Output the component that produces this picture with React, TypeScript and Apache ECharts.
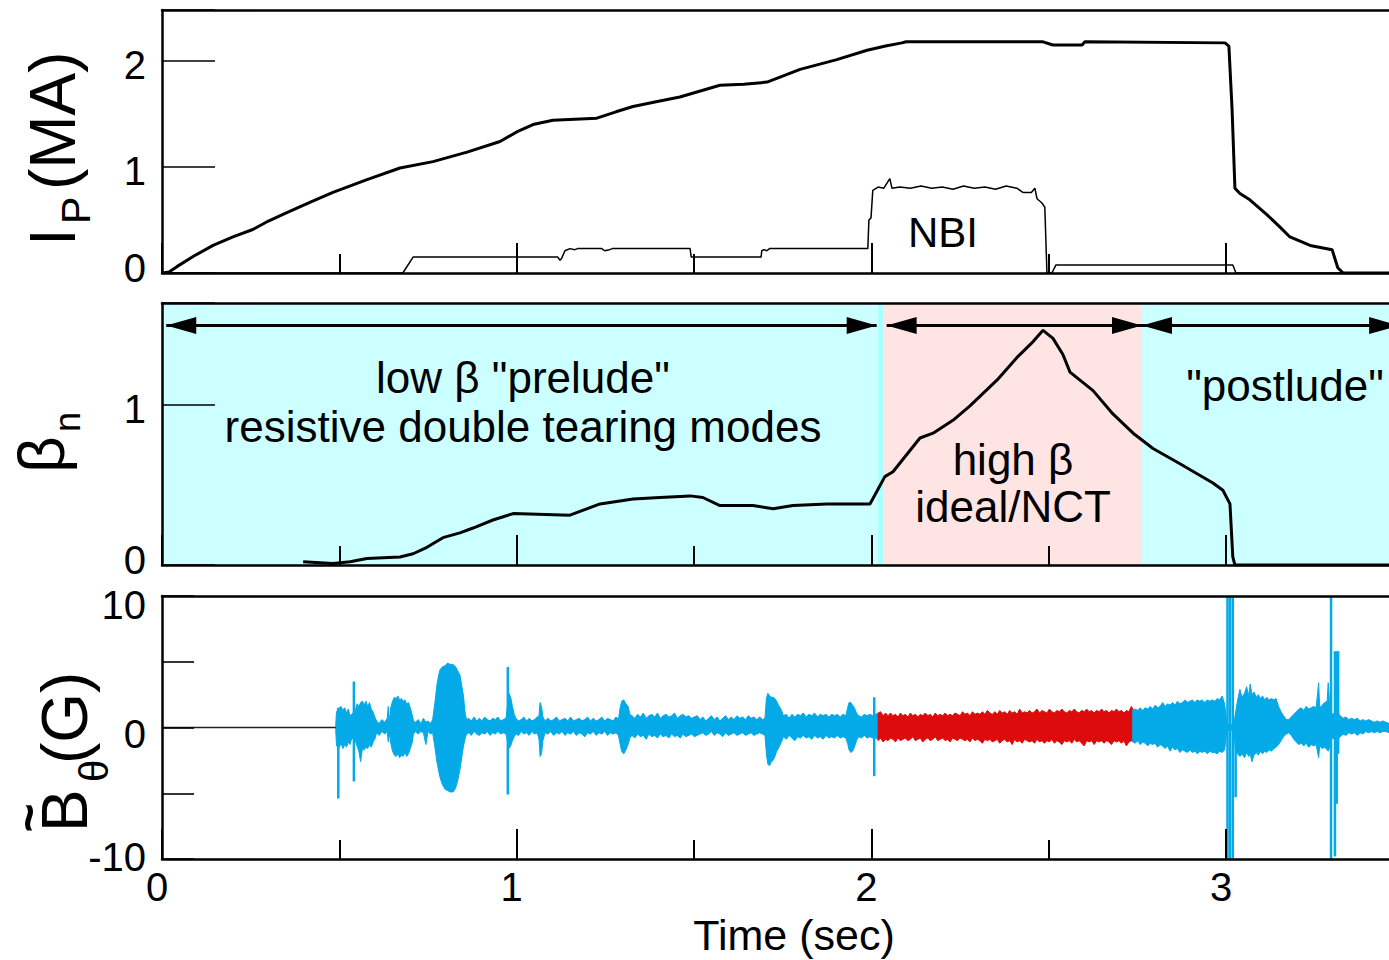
import React, { useEffect, useRef } from "react";
import * as echarts from "echarts";

const FONT = "'Liberation Sans', Arial, Helvetica, sans-serif";
const BLUE = "#04aae8";
const RED = "#dd0b0b";

// ---- panel 1: plasma current and NBI ----
const ipTime = [0, 0.02, 0.042, 0.09, 0.144, 0.2, 0.256, 0.3, 0.352, 0.42, 0.482, 0.578, 0.671, 0.764, 0.86, 0.953, 1.0, 1.046, 1.102, 1.226, 1.28, 1.328, 1.4, 1.46, 1.573, 1.64, 1.706, 1.799, 1.9, 1.988, 2.04, 2.086, 2.098, 2.484, 2.512, 2.594, 2.602, 2.997, 3.008, 3.017, 3.025, 3.039, 3.067, 3.115, 3.15, 3.18, 3.237, 3.299, 3.315, 3.33, 3.5];
const ipValue = [0, 0.01, 0.06, 0.16, 0.26, 0.34, 0.41, 0.49, 0.57, 0.67, 0.76, 0.88, 0.99, 1.05, 1.14, 1.24, 1.33, 1.4, 1.44, 1.46, 1.52, 1.57, 1.62, 1.66, 1.77, 1.78, 1.8, 1.92, 2.01, 2.1, 2.14, 2.17, 2.18, 2.18, 2.15, 2.15, 2.18, 2.17, 2.14, 1.54, 0.8, 0.75, 0.69, 0.55, 0.44, 0.34, 0.26, 0.22, 0.05, 0, 0];

const nbiTime = [0, 0.679, 0.708, 1.116, 1.122, 1.127, 1.136, 1.15, 1.164, 1.172, 1.24, 1.248, 1.262, 1.27, 1.489, 1.492, 1.689, 1.691, 1.697, 1.705, 1.713, 1.99, 1.993, 1.999, 2.004, 2.019, 2.035, 2.052, 2.058, 2.08, 2.11, 2.14, 2.17, 2.2, 2.23, 2.26, 2.29, 2.32, 2.35, 2.38, 2.41, 2.427, 2.451, 2.461, 2.467, 2.481, 2.489, 2.495, 2.509, 2.52, 3.019, 3.028, 3.5];
const nbiValue = [0, 0, 0.15, 0.15, 0.12, 0.14, 0.21, 0.23, 0.22, 0.23, 0.23, 0.21, 0.22, 0.23, 0.23, 0.15, 0.15, 0.21, 0.22, 0.21, 0.23, 0.23, 0.5, 0.52, 0.78, 0.81, 0.8, 0.89, 0.8, 0.81, 0.8, 0.82, 0.8, 0.81, 0.79, 0.82, 0.8, 0.81, 0.79, 0.82, 0.8, 0.76, 0.76, 0.8, 0.7, 0.66, 0.62, 0, 0, 0.075, 0.075, 0, 0];

// ---- panel 2: normalized beta ----
const betaTime = [0.398, 0.482, 0.53, 0.578, 0.671, 0.708, 0.747, 0.792, 0.84, 0.877, 0.933, 0.99, 1.15, 1.235, 1.328, 1.404, 1.489, 1.525, 1.573, 1.666, 1.723, 1.779, 1.875, 1.996, 2.016, 2.038, 2.061, 2.137, 2.174, 2.23, 2.278, 2.354, 2.41, 2.456, 2.484, 2.512, 2.54, 2.56, 2.625, 2.681, 2.738, 2.794, 2.87, 2.963, 2.991, 3.011, 3.019, 3.025, 3.5];
const betaValue = [0.02, 0.01, 0.02, 0.04, 0.05, 0.07, 0.11, 0.17, 0.2, 0.23, 0.28, 0.32, 0.31, 0.38, 0.41, 0.42, 0.43, 0.42, 0.37, 0.37, 0.35, 0.37, 0.38, 0.38, 0.46, 0.55, 0.58, 0.79, 0.82, 0.9, 0.99, 1.15, 1.29, 1.39, 1.46, 1.41, 1.31, 1.2, 1.085, 0.94, 0.82, 0.725, 0.63, 0.51, 0.465, 0.38, 0.05, 0, 0];

const phaseEdges = [0, 2.019, 2.033, 2.763, 3.5];
const phaseColors = ["#ccffff", "#aaffff", "#ffe4e4", "#ccffff"];
const arrowFrom = [0.012, 2.043, 2.763];
const arrowTo = [2.015, 2.763, 3.488];
const arrowLevel = 1.49;

// ---- panel 3: magnetic fluctuation envelope [time, low, high] ----
const quietTime = [0, 0.49];
const quietValue = [0, 0];

const bandBlue1: number[][] = [
  [0.49, -0.3, 0.3], [0.492, -1.4, 1.2], [0.5, -1.5, 1.5], [0.505, -1.2, 1.6], [0.51, -1.6, 1.3], [0.515, -1.3, 1.5], [0.52, -1.5, 1.1], [0.525, -1.1, 1.4], [0.53, -1.3, 0.9], [0.535, -0.8, 1.0],
  [0.545, -1.0, 1.3], [0.55, -1.4, 1.8], [0.555, -1.8, 1.6], [0.56, -2.6, 1.9], [0.565, -1.6, 2.0], [0.57, -1.7, 1.7], [0.575, -1.5, 2.0], [0.58, -1.6, 1.6], [0.585, -1.3, 1.9], [0.59, -1.5, 1.4],
  [0.595, -1.1, 1.2], [0.6, -0.9, 0.8], [0.605, -0.4, 0.5], [0.612, -0.6, 0.3], [0.62, -0.3, 0.6], [0.628, -0.5, 0.4], [0.635, -0.3, 0.7], [0.638, -1.1, 1.6], [0.641, -0.4, 0.5], [0.645, -1.2, 1.5],
  [0.65, -1.8, 2.0], [0.655, -2.1, 2.3], [0.66, -2.2, 2.2], [0.665, -2.0, 2.4], [0.67, -2.3, 2.1], [0.675, -2.1, 2.2], [0.68, -2.2, 2.0], [0.685, -1.9, 2.1], [0.69, -2.2, 1.8], [0.695, -2.0, 1.9],
  [0.7, -1.6, 1.5], [0.705, -1.2, 1.0], [0.709, -0.5, 0.5], [0.715, -0.3, 0.4], [0.722, -0.5, 0.6], [0.73, -0.3, 0.3], [0.737, -0.4, 0.7], [0.744, -1.3, 0.4], [0.75, -0.3, 0.5], [0.757, -0.5, 0.3],
  [0.763, -0.4, 0.6], [0.77, -1.6, 2.0], [0.775, -2.6, 3.2], [0.78, -3.3, 4.0], [0.784, -3.8, 4.4], [0.79, -4.3, 4.6], [0.798, -4.7, 4.7], [0.805, -4.8, 4.9], [0.812, -4.9, 4.8], [0.821, -4.9, 4.8],
  [0.828, -4.6, 4.6], [0.834, -4.0, 4.3], [0.84, -3.2, 4.0], [0.845, -2.3, 3.2], [0.85, -1.4, 2.4], [0.855, -0.8, 1.0], [0.859, -0.5, 0.6], [0.865, -0.4, 0.7], [0.872, -0.6, 0.5], [0.88, -0.3, 0.8],
  [0.887, -0.5, 0.5], [0.895, -0.6, 0.7], [0.902, -0.4, 0.5], [0.91, -0.5, 0.8], [0.917, -0.3, 0.6], [0.925, -0.6, 0.5], [0.932, -0.4, 0.7], [0.94, -0.5, 0.6], [0.947, -0.3, 0.8], [0.955, -0.5, 0.5],
  [0.962, -0.4, 0.6], [0.97, -0.5, 0.7], [0.978, -1.6, 2.6], [0.983, -1.4, 2.3], [0.988, -1.0, 1.6], [0.993, -0.7, 1.0], [0.998, -0.5, 0.7], [1.005, -0.6, 0.5], [1.013, -0.3, 0.6], [1.02, -0.5, 0.8],
  [1.028, -0.4, 0.5], [1.035, -0.6, 0.7], [1.043, -0.3, 0.5], [1.05, -0.5, 0.6], [1.058, -0.4, 0.8], [1.063, -0.9, 0.9], [1.066, -2.2, 1.9], [1.07, -2.0, 1.6], [1.074, -1.0, 0.8], [1.08, -0.4, 0.5],
  [1.088, -0.5, 0.7], [1.096, -0.3, 0.5], [1.104, -0.6, 0.6], [1.112, -0.4, 0.8], [1.12, -0.5, 0.5], [1.128, -0.3, 0.6], [1.136, -0.6, 0.7], [1.144, -0.4, 0.5], [1.152, -0.5, 0.8], [1.16, -0.3, 0.5],
  [1.168, -0.6, 0.6], [1.176, -0.4, 0.7], [1.184, -0.5, 0.5], [1.192, -0.7, 0.6], [1.2, -0.4, 0.8], [1.208, -0.5, 0.5], [1.216, -0.3, 0.7], [1.224, -0.6, 0.5], [1.232, -0.4, 0.6], [1.24, -0.5, 0.8],
  [1.248, -0.3, 0.5], [1.256, -0.6, 0.7], [1.264, -0.4, 0.6], [1.272, -0.5, 0.5], [1.28, -0.4, 0.8], [1.287, -0.6, 0.6], [1.291, -1.2, 1.4], [1.296, -1.8, 2.0], [1.302, -2.0, 2.1], [1.308, -1.7, 1.8],
  [1.314, -1.3, 1.6], [1.319, -0.8, 1.0], [1.325, -0.6, 0.9], [1.333, -0.8, 0.7], [1.341, -0.5, 1.0], [1.349, -0.7, 0.8], [1.357, -0.6, 1.1], [1.365, -0.9, 0.7], [1.373, -0.5, 0.9], [1.381, -0.7, 1.0],
  [1.389, -0.6, 0.8], [1.397, -0.8, 1.1], [1.405, -0.5, 0.7], [1.413, -0.7, 0.9], [1.421, -0.6, 1.0], [1.429, -0.8, 0.8], [1.437, -0.5, 0.9], [1.445, -0.7, 1.1], [1.453, -0.6, 0.7], [1.461, -0.8, 0.9],
  [1.469, -0.5, 1.0], [1.477, -0.7, 0.8], [1.485, -0.6, 0.9], [1.493, -0.5, 0.7], [1.501, -0.7, 0.8], [1.509, -0.6, 0.9], [1.517, -0.5, 0.6], [1.525, -0.4, 0.8], [1.533, -0.6, 0.5], [1.541, -0.5, 0.7],
  [1.549, -0.3, 0.9], [1.557, -0.6, 0.6], [1.565, -0.4, 0.8], [1.573, -0.5, 0.5], [1.581, -0.7, 0.7], [1.589, -0.4, 0.9], [1.597, -0.6, 0.6], [1.605, -0.5, 0.8], [1.613, -0.4, 0.6], [1.621, -0.6, 0.9],
  [1.629, -0.5, 0.7], [1.637, -0.4, 0.8], [1.645, -0.6, 0.6], [1.653, -0.5, 0.9], [1.661, -0.4, 0.7], [1.669, -0.6, 0.8], [1.677, -0.5, 0.6], [1.685, -0.4, 0.8], [1.693, -0.5, 0.6], [1.7, -0.6, 0.7],
  [1.704, -2.0, 2.2], [1.708, -2.8, 2.6], [1.713, -2.9, 2.4], [1.718, -2.6, 2.3], [1.723, -2.5, 2.3], [1.728, -2.2, 2.2], [1.733, -1.8, 2.0], [1.738, -1.6, 1.7], [1.743, -1.3, 1.5], [1.748, -1.0, 1.2],
  [1.752, -0.7, 0.9], [1.76, -0.9, 1.0], [1.768, -0.6, 0.7], [1.776, -0.8, 1.0], [1.784, -1.0, 0.8], [1.792, -0.7, 1.0], [1.8, -0.8, 0.9], [1.808, -0.6, 1.1], [1.816, -0.8, 0.8], [1.824, -0.7, 1.0],
  [1.832, -0.9, 0.9], [1.84, -0.6, 1.1], [1.848, -0.8, 0.8], [1.856, -0.7, 1.0], [1.864, -0.9, 0.9], [1.872, -0.6, 1.0], [1.88, -0.8, 0.8], [1.888, -0.7, 1.0], [1.896, -0.8, 0.9], [1.904, -0.6, 1.0],
  [1.912, -0.8, 0.8], [1.92, -0.7, 1.0], [1.928, -0.8, 0.9], [1.933, -1.2, 1.5], [1.937, -1.7, 1.9], [1.942, -1.9, 1.9], [1.947, -1.8, 1.7], [1.952, -1.5, 1.5], [1.958, -1.0, 1.1], [1.964, -0.7, 0.9],
  [1.972, -0.8, 0.8], [1.98, -0.6, 1.0], [1.988, -0.8, 0.9], [1.996, -0.7, 1.0], [2.004, -0.8, 0.9], [2.012, -0.8, 1.0], [2.019, -0.9, 1.1],
];

const bandRed: number[][] = [
  [2.019, -1.0, 1.1], [2.026, -0.8, 1.2], [2.033, -1.1, 0.9], [2.04, -0.9, 1.1], [2.047, -1.0, 0.9], [2.054, -0.8, 1.1], [2.061, -0.9, 0.9], [2.068, -1.1, 1.0], [2.075, -0.8, 0.8], [2.082, -1.0, 1.1],
  [2.089, -0.9, 0.9], [2.096, -0.8, 1.0], [2.103, -1.0, 0.8], [2.11, -0.9, 1.1], [2.117, -0.7, 0.9], [2.124, -1.0, 1.0], [2.131, -0.9, 0.8], [2.138, -0.8, 1.0], [2.145, -1.1, 0.9], [2.152, -0.9, 1.1],
  [2.159, -0.8, 0.9], [2.166, -1.0, 1.0], [2.173, -0.9, 0.8], [2.18, -0.7, 1.1], [2.187, -1.0, 0.9], [2.194, -0.9, 1.0], [2.201, -0.8, 0.9], [2.208, -1.0, 1.1], [2.215, -0.9, 0.9], [2.222, -1.1, 1.0],
  [2.229, -0.8, 0.9], [2.236, -0.9, 1.1], [2.243, -1.0, 1.0], [2.25, -0.8, 0.9], [2.257, -0.9, 1.2], [2.264, -1.0, 1.0], [2.271, -0.9, 1.1], [2.278, -1.1, 0.9], [2.285, -0.8, 1.2], [2.292, -1.0, 1.0],
  [2.299, -0.9, 1.1], [2.306, -1.0, 1.0], [2.313, -1.2, 1.2], [2.32, -0.9, 1.0], [2.327, -1.0, 1.3], [2.334, -0.9, 1.1], [2.341, -1.1, 1.0], [2.348, -1.0, 1.2], [2.355, -0.9, 1.0], [2.362, -1.2, 1.3],
  [2.369, -1.0, 1.1], [2.376, -0.9, 1.2], [2.383, -1.1, 1.0], [2.39, -1.0, 1.3], [2.397, -1.3, 1.1], [2.404, -0.9, 1.2], [2.411, -1.1, 1.0], [2.418, -1.0, 1.4], [2.425, -1.2, 1.1], [2.432, -0.9, 1.2],
  [2.439, -1.0, 1.1], [2.446, -1.1, 1.3], [2.453, -1.0, 1.1], [2.46, -1.2, 1.2], [2.467, -0.9, 1.4], [2.474, -1.1, 1.1], [2.481, -1.0, 1.3], [2.488, -1.2, 1.2], [2.495, -1.0, 1.1], [2.502, -1.1, 1.4],
  [2.509, -0.9, 1.2], [2.516, -1.2, 1.1], [2.523, -1.0, 1.3], [2.53, -1.1, 1.2], [2.537, -1.3, 1.4], [2.544, -1.0, 1.2], [2.551, -1.1, 1.1], [2.558, -1.0, 1.3], [2.565, -1.2, 1.2], [2.572, -0.9, 1.4],
  [2.579, -1.1, 1.2], [2.586, -1.0, 1.1], [2.593, -1.2, 1.3], [2.6, -1.4, 1.2], [2.607, -1.0, 1.4], [2.614, -1.1, 1.2], [2.621, -1.0, 1.3], [2.628, -1.3, 1.1], [2.635, -1.0, 1.3], [2.642, -1.1, 1.2],
  [2.649, -1.0, 1.4], [2.656, -1.2, 1.2], [2.663, -1.0, 1.3], [2.67, -1.1, 1.1], [2.677, -1.3, 1.3], [2.684, -1.0, 1.2], [2.691, -1.1, 1.4], [2.698, -1.0, 1.2], [2.705, -1.2, 1.3], [2.712, -1.0, 1.1],
  [2.719, -1.4, 1.3], [2.726, -1.1, 1.2], [2.733, -1.0, 1.6], [2.737, -1.1, 1.4],
];

const bandBlue2: number[][] = [
  [2.737, -1.1, 1.3], [2.744, -1.2, 1.4], [2.751, -1.0, 1.3], [2.758, -1.3, 1.5], [2.765, -1.1, 1.3], [2.772, -1.2, 1.5], [2.779, -1.4, 1.4], [2.786, -1.2, 1.6], [2.793, -1.3, 1.4], [2.8, -1.2, 1.7],
  [2.807, -1.5, 1.5], [2.814, -1.3, 1.6], [2.821, -1.4, 1.9], [2.828, -1.6, 1.6], [2.835, -1.4, 1.8], [2.842, -1.8, 1.7], [2.849, -1.5, 1.9], [2.856, -1.7, 1.7], [2.863, -1.6, 2.0], [2.87, -1.9, 1.8],
  [2.877, -1.7, 1.9], [2.884, -1.8, 2.1], [2.891, -1.9, 1.9], [2.898, -1.7, 2.0], [2.905, -1.9, 2.1], [2.912, -1.8, 1.9], [2.919, -2.0, 2.1], [2.926, -1.8, 2.0], [2.933, -1.9, 2.1], [2.94, -1.8, 1.9],
  [2.947, -2.0, 2.1], [2.954, -1.8, 2.0], [2.961, -1.9, 2.1], [2.968, -1.9, 2.0], [2.975, -2.0, 2.2], [2.982, -1.8, 2.1], [2.989, -1.9, 2.4], [2.996, -1.7, 1.8], [3.0, -0.8, 0.9], [3.002, -0.2, 0.2],
  [3.022, -0.2, 0.2], [3.026, -1.5, 1.0], [3.032, -2.0, 2.0], [3.039, -2.2, 2.9], [3.045, -2.0, 2.3], [3.052, -2.3, 2.6], [3.058, -1.9, 3.1], [3.064, -2.2, 2.4], [3.068, -2.0, 3.3], [3.073, -2.6, 2.5],
  [3.079, -2.1, 2.7], [3.085, -1.9, 2.3], [3.091, -2.1, 2.5], [3.097, -1.8, 2.2], [3.103, -2.0, 2.4], [3.109, -1.8, 2.1], [3.115, -1.9, 2.3], [3.121, -1.7, 2.1], [3.128, -1.8, 2.2], [3.135, -1.6, 2.1],
  [3.141, -1.5, 2.2], [3.148, -1.3, 1.6], [3.155, -1.0, 1.2], [3.162, -0.7, 0.9], [3.17, -0.5, 0.6], [3.177, -0.4, 0.6], [3.184, -0.6, 0.8], [3.191, -0.9, 1.0], [3.198, -1.1, 1.2], [3.205, -1.3, 1.4],
  [3.212, -1.2, 1.5], [3.219, -1.4, 1.3], [3.226, -1.2, 1.6], [3.233, -1.5, 1.4], [3.24, -1.3, 1.5], [3.247, -1.4, 1.6], [3.254, -1.3, 1.5], [3.261, -2.3, 3.4], [3.264, -1.4, 1.5], [3.271, -1.6, 1.7],
  [3.278, -1.5, 1.9], [3.285, -1.7, 2.0], [3.288, -1.8, 3.4], [3.291, -1.6, 2.2], [3.294, -1.0, 1.2], [3.3, -0.8, 1.0], [3.31, -1.0, 1.2], [3.318, -0.8, 1.0], [3.322, -0.7, 0.9], [3.33, -0.5, 0.7],
  [3.338, -0.6, 0.8], [3.346, -0.4, 0.6], [3.354, -0.5, 0.7], [3.362, -0.4, 0.6], [3.37, -0.6, 0.7], [3.378, -0.4, 0.5], [3.386, -0.5, 0.6], [3.394, -0.3, 0.5], [3.402, -0.4, 0.6], [3.41, -0.3, 0.5],
  [3.418, -0.4, 0.4], [3.426, -0.3, 0.5], [3.434, -0.4, 0.4], [3.442, -0.3, 0.5], [3.45, -0.3, 0.4], [3.46, -0.4, 0.3], [3.47, -0.3, 0.4], [3.48, -0.3, 0.4], [3.49, -0.3, 0.3], [3.5, -0.3, 0.4],
];

const spikeTime = [0.497, 0.541, 0.975, 2.008, 3.004, 3.011, 3.019, 3.027, 3.296, 3.307, 3.312, 3.316];
const spikeLow = [-5.4, -4.1, -5.1, -3.7, -10, -10, -10, -5.3, -10, -9.8, -5.8, -2.0];
const spikeHigh = [1.5, 3.5, 4.6, 2.3, 10, 10, 10, 0.5, 10, 5.8, 5.8, 5.8];

const zip = (a: number[], b: number[]) => a.map((t, i) => [t, b[i]]);

const CHART_W = 1410;
const GRID_LEFT = 162;
const GRID_RIGHT = CHART_W - 162 - 1241.4;

function xAxesFor(g: number, showLabels: boolean) {
  const base = { gridIndex: g, type: "value", min: 0, max: 3.5, z: 10, splitLine: { show: false } };
  return [
    {
      ...base, position: "bottom", interval: 1,
      axisLine: { show: true, onZero: false, lineStyle: { color: "#000", width: 2.5 } },
      axisTick: { show: true, inside: true, length: 30, lineStyle: { color: "#000", width: 2 } },
      axisLabel: {
        show: showLabels, showMaxLabel: false, margin: 8, fontSize: 40, color: "#000", fontFamily: FONT,
        padding: [0, 10, 0, 0],
        formatter: (v: number) => (Number.isInteger(v) ? String(v) : ""),
      },
    },
    {
      ...base, position: "bottom", interval: 0.5,
      axisLine: { show: false, onZero: false },
      axisTick: { show: true, inside: true, length: 19, lineStyle: { color: "#000", width: 2 } },
      axisLabel: { show: false },
    },
    {
      ...base, position: "top",
      axisLine: { show: true, onZero: false, lineStyle: { color: "#000", width: 2.5 } },
      axisTick: { show: false },
      axisLabel: { show: false },
    },
  ];
}

const richLbl = (pad: number[]) => ({ fontSize: 40, fontFamily: FONT, color: "#000", padding: pad });

function yAxisFor(g: number, min: number, max: number, interval: number, tickLen: number, fmt: (v: number) => string, rich: any) {
  return {
    gridIndex: g, type: "value", min, max, interval, z: 10,
    axisLine: { show: true, onZero: false, lineStyle: { color: "#000", width: 2.5 } },
    axisTick: { show: true, inside: true, length: tickLen, lineStyle: { color: "#000", width: 1.6 } },
    axisLabel: { show: true, margin: 16, fontSize: 40, color: "#000", fontFamily: FONT, formatter: fmt, rich, showMaxLabel: true },
    splitLine: { show: false },
  };
}

function txt(text: string, x: number, y: number, size: number, opts: any = {}) {
  return {
    type: "text", x, y, z: 100, silent: true,
    rotation: opts.rotation || 0,
    style: {
      text, fill: "#000", fontSize: size, fontFamily: FONT,
      fontWeight: opts.weight || "normal",
      align: opts.align || "left", textAlign: opts.align || "left",
      verticalAlign: "middle", textVerticalAlign: "middle",
      lineHeight: opts.lineHeight,
    },
  };
}

// one polygon per band: upper envelope left→right, lower envelope right→left
function bandSeries(name: string, band: number[][], color: string) {
  return {
    type: "custom", name, xAxisIndex: 6, yAxisIndex: 2, silent: true, z: 3,
    data: band, encode: { x: 0, y: [1, 2] },
    renderItem: (params: any, api: any) => {
      if (params.dataIndexInside !== 0) return null;
      const n = params.dataInsideLength;
      const upper: number[][] = [];
      const lower: number[][] = [];
      for (let i = 0; i < n; i++) {
        const t = api.value(0, i);
        upper.push(api.coord([t, api.value(2, i)]));
        lower.push(api.coord([t, api.value(1, i)]));
      }
      return {
        type: "polygon",
        shape: { points: upper.concat(lower.reverse()) },
        style: { fill: color, stroke: color, lineWidth: 1 },
      };
    },
  };
}

export default function App() {
  const ref = useRef<HTMLDivElement>(null);

  useEffect(() => {
    const chart = echarts.init(ref.current as HTMLDivElement, null, { renderer: "svg" });
    const R = Math.PI / 2;

    const markAreaData = phaseColors.map((c, i) => [
      { xAxis: phaseEdges[i], itemStyle: { color: c } },
      { xAxis: phaseEdges[i + 1] },
    ]);
    const markLineData = arrowFrom.map((f, i) => [
      { coord: [f, arrowLevel] },
      { coord: [arrowTo[i], arrowLevel] },
    ]);

    const option: any = {
      animation: false,
      grid: [
        { left: GRID_LEFT, right: GRID_RIGHT, top: 10, height: 263 },
        { left: GRID_LEFT, right: GRID_RIGHT, top: 303, height: 262 },
        { left: GRID_LEFT, right: GRID_RIGHT, top: 596, height: 263 },
      ],
      xAxis: [...xAxesFor(0, false), ...xAxesFor(1, false), ...xAxesFor(2, true)],
      yAxis: [
        yAxisFor(0, 0, 2.48, 1, 53, (v) => (v === 0 ? "{u|0}" : v === 1 || v === 2 ? "{d|" + v + "}" : ""), { u: richLbl([0, 0, 11, 0]), d: richLbl([9, 0, 0, 0]) }),
        yAxisFor(1, 0, 1.63, 1, 53, (v) => (v === 0 ? "{u|0}" : v === 1 ? "{d|1}" : ""), { u: richLbl([0, 0, 10, 0]), d: richLbl([9, 0, 0, 0]) }),
        yAxisFor(2, -10, 10, 5, 32, (v) => (v === 10 ? "{t|10}" : v === 0 ? "{m|0}" : v === -10 ? "{b|-10}" : ""), { t: richLbl([18, 0, 0, 0]), m: richLbl([12, 0, 0, 0]), b: richLbl([0, 0, 4, 0]) }),
      ],
      series: [
        {
          type: "line", name: "Ip", xAxisIndex: 0, yAxisIndex: 0, data: zip(ipTime, ipValue),
          symbol: "none", lineStyle: { color: "#000", width: 3 }, z: 5, silent: true,
        },
        {
          type: "line", name: "NBI", xAxisIndex: 0, yAxisIndex: 0, data: zip(nbiTime, nbiValue),
          symbol: "none", lineStyle: { color: "#000", width: 1.5 }, z: 4, silent: true,
        },
        {
          type: "line", name: "betaN", xAxisIndex: 3, yAxisIndex: 1, data: zip(betaTime, betaValue),
          symbol: "none", lineStyle: { color: "#000", width: 3 }, z: 5, silent: true,
          markArea: { silent: true, z: 1, data: markAreaData },
          markLine: {
            silent: true, z: 6, symbol: ["triangle", "triangle"], symbolSize: [17, 30],
            symbolOffset: [[0, 15], [0, 15]],
            lineStyle: { color: "#000", width: 3, type: "solid" },
            itemStyle: { color: "#000" },
            label: { show: false }, emphasis: { disabled: true },
            data: markLineData,
          },
        },
        {
          type: "line", name: "quiet", xAxisIndex: 6, yAxisIndex: 2, data: zip(quietTime, quietValue),
          symbol: "none", lineStyle: { color: "#222", width: 1.5 }, z: 4, silent: true,
        },
        bandSeries("blue1", bandBlue1, BLUE),
        bandSeries("red", bandRed, RED),
        bandSeries("blue2", bandBlue2, BLUE),
        {
          type: "custom", name: "spikes", xAxisIndex: 6, yAxisIndex: 2, silent: true, z: 4,
          data: spikeTime.map((t, i) => [t, spikeLow[i], spikeHigh[i]]),
          encode: { x: 0, y: [1, 2] },
          renderItem: (params: any, api: any) => {
            const a = api.coord([api.value(0), api.value(1)]);
            const b = api.coord([api.value(0), api.value(2)]);
            return {
              type: "line",
              shape: { x1: a[0], y1: a[1], x2: b[0], y2: b[1] },
              style: { stroke: BLUE, lineWidth: 2.5 },
            };
          },
        },
      ],
      graphic: {
        elements: [
          txt("I", 52.5, 246, 64, { rotation: R }),
          txt("P", 76, 224, 41, { rotation: R }),
          txt("(MA)", 52.5, 190, 64, { rotation: R }),
          txt("β", 41.5, 473, 64, { rotation: R }),
          txt("n", 67.5, 432, 36, { rotation: R }),
          txt("~", 29, 818, 50, { rotation: R, align: "center", weight: "bold" }),
          txt("B", 65, 832, 64, { rotation: R }),
          txt("θ", 94, 782, 40, { rotation: R }),
          txt("(G)", 65, 764, 64, { rotation: R }),
          txt("NBI", 943, 232, 42, { align: "center" }),
          txt('low β "prelude"\nresistive double tearing modes', 523, 402, 44, { align: "center", lineHeight: 49 }),
          txt("high β\nideal/NCT", 1013, 483, 44, { align: "center", lineHeight: 47 }),
          txt('"postlude"', 1285, 385, 44, { align: "center" }),
          txt("Time (sec)", 794, 935, 43, { align: "center" }),
        ],
      },
    };

    chart.setOption(option);
    return () => chart.dispose();
  }, []);

  return (
    <div style={{ position: "absolute", left: 0, top: 0, width: 1389, height: 960, overflow: "hidden", background: "#fff" }}>
      <div ref={ref} style={{ width: CHART_W, height: 960 }} />
    </div>
  );
}
